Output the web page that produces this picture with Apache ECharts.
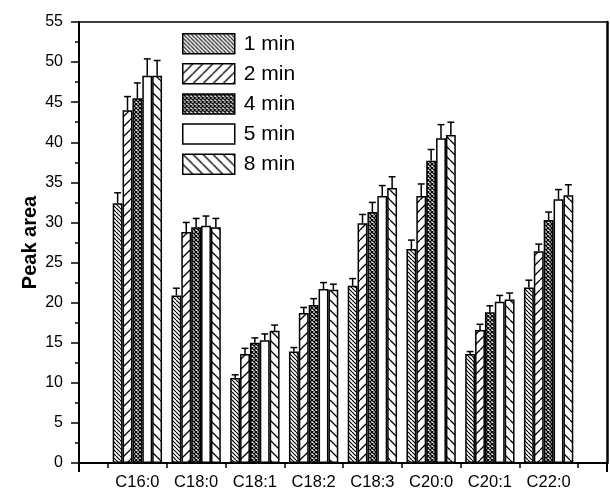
<!DOCTYPE html>
<html><head><meta charset="utf-8">
<script src="https://cdn.jsdelivr.net/npm/echarts@6/dist/echarts.min.js"></script>
<style>html,body{margin:0;padding:0;background:#fff}#c{width:610px;height:495px}</style>
</head><body><div id="c"></div>
<script>
const categories = ['C16:0','C18:0','C18:1','C18:2','C18:3','C20:0','C20:1','C22:0'];
const seriesNames = ['1 min','2 min','4 min','5 min','8 min'];
const min1 = [32.4, 20.9, 10.6, 13.9, 22.1, 26.7, 13.6, 21.9];
const min1Err = [1.3, 0.9, 0.4, 0.5, 0.9, 1.1, 0.3, 0.9];
const min2 = [44.0, 28.8, 13.6, 18.7, 29.9, 33.3, 16.6, 26.4];
const min2Err = [1.7, 1.2, 0.7, 0.7, 1.1, 1.5, 0.7, 0.9];
const min4 = [45.5, 29.4, 15.0, 19.7, 31.3, 37.7, 18.8, 30.3];
const min4Err = [1.9, 1.1, 0.6, 0.8, 1.2, 1.4, 0.8, 1.0];
const min5 = [48.3, 29.6, 15.3, 21.7, 33.3, 40.5, 20.1, 32.9];
const min5Err = [2.1, 1.2, 0.8, 0.8, 1.3, 1.7, 0.8, 1.2];
const min8 = [48.3, 29.4, 16.5, 21.6, 34.3, 40.9, 20.4, 33.4];
const min8Err = [1.9, 1.1, 0.7, 0.7, 1.4, 1.6, 0.8, 1.3];
const yMin = 0, yMax = 55, yStep = 5;

const values = [min1, min2, min4, min5, min8];
const errors = [min1Err, min2Err, min4Err, min5Err, min8Err];

function hatch(p, dir, lw) {
  const c = document.createElement('canvas');
  c.width = p; c.height = p;
  const g = c.getContext('2d');
  g.fillStyle = '#fff'; g.fillRect(0, 0, p, p);
  g.strokeStyle = '#000'; g.lineWidth = lw;
  g.beginPath();
  for (let k = -1; k <= 1; k++) {
    if (dir === 'back') { g.moveTo(k * p, 0); g.lineTo(k * p + p, p); }
    else { g.moveTo(k * p, p); g.lineTo(k * p + p, 0); }
  }
  g.stroke();
  return c;
}
function cross(p, lw) {
  const c = document.createElement('canvas');
  c.width = p; c.height = p;
  const g = c.getContext('2d');
  g.fillStyle = '#fff'; g.fillRect(0, 0, p, p);
  g.strokeStyle = '#000'; g.lineWidth = lw;
  g.beginPath();
  for (let k = -1; k <= 1; k++) {
    g.moveTo(k * p, 0); g.lineTo(k * p + p, p);
    g.moveTo(k * p, p); g.lineTo(k * p + p, 0);
  }
  g.stroke();
  return c;
}
const fills = [
  { image: hatch(4, 'back', 1.2), repeat: 'repeat' },
  { image: hatch(10, 'fwd', 1.3), repeat: 'repeat' },
  { image: cross(4, 1.3), repeat: 'repeat' },
  '#ffffff',
  { image: hatch(10, 'back', 1.3), repeat: 'repeat' }
];

const FONT = 'Liberation Sans, Arial, sans-serif';
const CAT_GAP = 0.16;

const chart = echarts.init(document.getElementById('c'), null, { renderer: 'canvas' });

const barSeries = seriesNames.map((name, si) => ({
  name, type: 'bar', xAxisIndex: 2, yAxisIndex: 2,
  barGap: 0, barCategoryGap: (CAT_GAP * 100) + '%',
  data: values[si],
  itemStyle: { color: fills[si], borderColor: '#000', borderWidth: 1.5 },
  emphasis: { disabled: true }, animation: false, z: 2
}));

const errData = [];
values.forEach((arr, si) => arr.forEach((v, ci) => errData.push([ci, v, errors[si][ci], si])));

const errSeries = {
  type: 'custom', xAxisIndex: 2, yAxisIndex: 2, z: 5, animation: false, silent: true,
  encode: { x: 0, y: 1 },
  data: errData,
  renderItem(params, api) {
    const ci = api.value(0), v = api.value(1), e = api.value(2), si = api.value(3);
    const base = api.coord([ci, v]);
    const top = api.coord([ci, v + e]);
    const band = api.size([1, 0])[0];
    const group = band * (1 - CAT_GAP);
    const bw = group / 5;
    const x = base[0] - group / 2 + bw * (si + 0.5);
    const cap = bw * 0.35;
    const st = { stroke: '#000', lineWidth: 1.5 };
    return { type: 'group', children: [
      { type: 'line', shape: { x1: x, y1: base[1], x2: x, y2: top[1] }, style: st },
      { type: 'line', shape: { x1: x - cap, y1: top[1], x2: x + cap, y2: top[1] }, style: st }
    ]};
  }
};

chart.setOption({
  animation: false,
  backgroundColor: '#fff',
  textStyle: { fontFamily: FONT },
  grid: [
    { left: 79, right: 3, top: 22, bottom: 32 },
    { left: 108, right: 32, top: 22, bottom: 32 }
  ],
  legend: {
    orient: 'vertical', left: 182, top: 33, padding: 0,
    itemWidth: 52, itemHeight: 20, itemGap: 8.6, icon: 'rect',
    itemStyle: { borderColor: '#000', borderWidth: 1.5 },
    textStyle: { fontSize: 21, lineHeight: 20, color: '#000', fontFamily: FONT, padding: [0, 0, 0, 4] },
    data: seriesNames, selectedMode: false
  },
  xAxis: [
    { gridIndex: 0, type: 'value', min: 0, max: 1, interval: 1, position: 'bottom',
      axisLine: { show: true, lineStyle: { color: '#000', width: 2 } },
      axisTick: { show: true, length: 9, lineStyle: { color: '#000', width: 2 } },
      axisLabel: { show: false }, splitLine: { show: false } },
    { gridIndex: 0, type: 'value', min: 0, max: 1, position: 'top',
      axisLine: { show: true, onZero: false, lineStyle: { color: '#000', width: 1.5 } },
      axisTick: { show: false }, axisLabel: { show: false }, splitLine: { show: false } },
    { gridIndex: 1, type: 'category', data: categories, boundaryGap: true, position: 'bottom',
      axisLine: { show: false },
      axisTick: { show: true, length: 5, inside: false, lineStyle: { color: '#000', width: 1.5 } },
      axisLabel: { fontSize: 16.5, color: '#000', margin: 11, fontFamily: FONT, interval: 0 },
      splitLine: { show: false } }
  ],
  yAxis: [
    { gridIndex: 0, type: 'value', min: yMin, max: yMax, interval: yStep,
      name: 'Peak area', nameLocation: 'middle', nameGap: 39, nameRotate: 90, nameMoveOverlap: false,
      nameTextStyle: { fontSize: 20, fontWeight: 'bold', color: '#000', fontFamily: FONT },
      axisLine: { show: true, lineStyle: { color: '#000', width: 2 } },
      axisTick: { show: true, length: 8, lineStyle: { color: '#000', width: 1.5 } },
      minorTick: { show: true, splitNumber: 2, length: 4, lineStyle: { color: '#000', width: 1.5 } },
      axisLabel: { fontSize: 16, color: '#000', margin: 16, fontFamily: FONT },
      splitLine: { show: false } },
    { gridIndex: 0, type: 'value', min: yMin, max: yMax, position: 'right',
      axisLine: { show: true, onZero: false, lineStyle: { color: '#000', width: 2.5 } },
      axisTick: { show: false }, axisLabel: { show: false }, splitLine: { show: false } },
    { gridIndex: 1, type: 'value', min: yMin, max: yMax, show: false, splitLine: { show: false } }
  ],
  series: [...barSeries, errSeries]
});
</script>
</body></html>
